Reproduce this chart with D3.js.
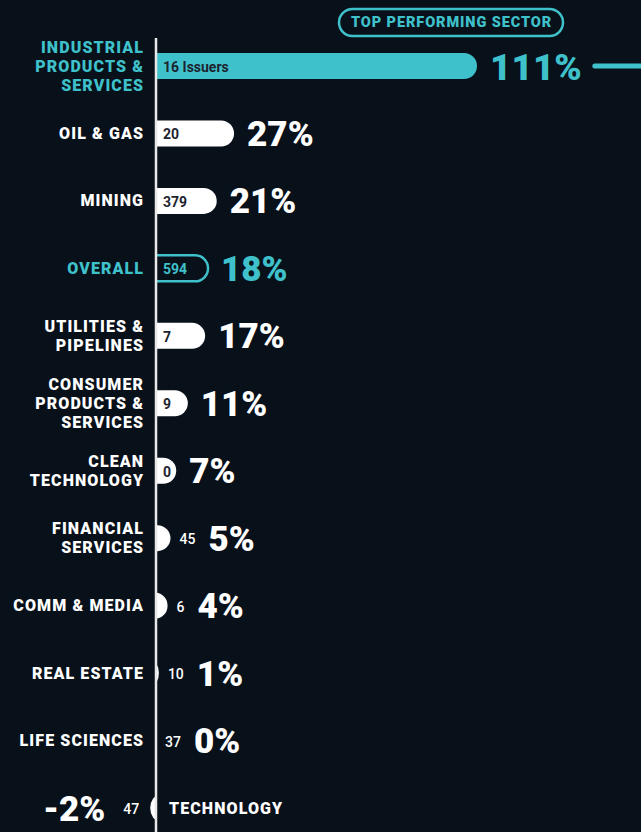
<!DOCTYPE html>
<html>
<head>
<meta charset="utf-8">
<script src="https://cdn.jsdelivr.net/npm/d3@7"></script>
<style>
  html, body { margin: 0; padding: 0; background: #08101a; }
  svg { display: block; }
  text { font-family: Roboto, "DejaVu Sans", sans-serif; }
</style>
</head>
<body>
<div id="chart"></div>
<script>
// ---- data ----
const categories = [
  "INDUSTRIAL|PRODUCTS &|SERVICES",
  "OIL & GAS",
  "MINING",
  "OVERALL",
  "UTILITIES &|PIPELINES",
  "CONSUMER|PRODUCTS &|SERVICES",
  "CLEAN|TECHNOLOGY",
  "FINANCIAL|SERVICES",
  "COMM & MEDIA",
  "REAL ESTATE",
  "LIFE SCIENCES",
  "TECHNOLOGY"
];
const returns = [111, 27, 21, 18, 17, 11, 7, 5, 4, 1, 0, -2];
const issuers = [16, 20, 379, 594, 7, 9, 0, 45, 6, 10, 37, 47];
const highlight = ["top", "", "", "overall", "", "", "", "", "", "", "", ""];
const badgeText = "TOP PERFORMING SECTOR";

// ---- layout ----
const W = 641, H = 832;
const teal = "#3fc1cb", white = "#ffffff", bg = "#08101a", dark = "#1c2430";
const svg = d3.select("#chart").append("svg").attr("width", W).attr("height", H);
svg.append("rect").attr("width", W).attr("height", H).attr("fill", bg);

const x = d3.scaleLinear().domain([0, 111]).range([156, 477]);
const y = d3.scalePoint().domain(d3.range(categories.length)).range([66, 808]);
const x0 = x(0);
const barH = 26, r = 13;

const rows = categories.map((c, i) => ({
  i, label: c.split("|"), v: returns[i], n: issuers[i], hl: highlight[i]
}));

const defs = svg.append("defs");
defs.append("clipPath").attr("id", "clipR").append("rect")
  .attr("x", x0).attr("y", 0).attr("width", W).attr("height", H);
defs.append("clipPath").attr("id", "clipL").append("rect")
  .attr("x", 0).attr("y", 0).attr("width", x0).attr("height", H);

// badge
const badge = svg.append("g");
badge.append("rect").attr("x", 339).attr("y", 9).attr("width", 224).attr("height", 27)
  .attr("rx", 13.5).attr("fill", "none").attr("stroke", teal).attr("stroke-width", 2.5);
badge.append("text").attr("x", 451.5).attr("y", 22.5).attr("text-anchor", "middle")
  .attr("dominant-baseline", "central").attr("fill", teal)
  .attr("font-size", 14.5).attr("font-weight", 900).attr("letter-spacing", 0.9)
  .text(badgeText);

// bars
const bars = svg.append("g");
rows.forEach(d => {
  const cy = y(d.i);
  const pos = d.v >= 0;
  const xe = x(d.v);
  if (d.v === 0) return;
  const rx0 = pos ? x0 - r : xe;
  const rw = pos ? (xe - x0 + r) : (x0 + r - xe);
  const isOverall = d.hl === "overall";
  bars.append("rect")
    .attr("clip-path", pos ? "url(#clipR)" : "url(#clipL)")
    .attr("x", rx0).attr("y", cy - barH / 2)
    .attr("width", rw).attr("height", barH)
    .attr("rx", r)
    .attr("fill", isOverall ? "none" : (d.hl === "top" ? teal : white))
    .attr("stroke", isOverall ? teal : "none")
    .attr("stroke-width", isOverall ? 2.5 : 0);
});

// axis line
svg.append("line").attr("x1", x0).attr("x2", x0).attr("y1", 38).attr("y2", H)
  .attr("stroke", "#e8e8e8").attr("stroke-width", 2.5);

// labels
const lab = svg.append("g");
const lineStep = 19;
const ls = 1.1;
rows.forEach(d => {
  const cy = y(d.i);
  const pos = d.v >= 0;
  const col = d.hl ? teal : white;
  const xe = x(d.v);
  const w = Math.abs(xe - x0);
  // category label
  const n = d.label.length;
  const lx = pos ? 143 + ls : x0 + 13;
  const t = lab.append("text")
    .attr("text-anchor", pos ? "end" : "start")
    .attr("x", lx).attr("letter-spacing", ls)
    .attr("fill", col).attr("font-size", 16).attr("font-weight", 900);
  d.label.forEach((s, k) => {
    t.append("tspan").attr("x", lx)
      .attr("y", cy + (k - (n - 1) / 2) * lineStep)
      .attr("dominant-baseline", "central").text(s);
  });

  // issuer count
  const inside = pos && w >= 18;
  const countStr = d.hl === "top" ? d.n + " Issuers" : String(d.n);
  let cx, anchor, ccol, cfs, cw;
  if (inside) {
    cx = x0 + 7; anchor = "start";
    ccol = d.hl === "overall" ? teal : dark; cfs = 14; cw = 700;
  } else if (pos) {
    cx = xe + 9; anchor = "start"; ccol = white; cfs = 14; cw = 500;
  } else {
    cx = xe - 11; anchor = "end"; ccol = white; cfs = 14; cw = 500;
  }
  const ct = lab.append("text").attr("x", cx).attr("y", cy + 1)
    .attr("text-anchor", anchor).attr("dominant-baseline", "central")
    .attr("fill", ccol).attr("font-size", cfs).attr("font-weight", cw)
    .text(countStr);
  const cbox = ct.node().getBBox();

  // percent label
  const pfs = d.hl === "top" ? 37 : 35;
  let px, panchor;
  if (pos) {
    const edge = inside ? xe : cbox.x + cbox.width;
    px = edge + 13; panchor = "start";
  } else {
    px = cbox.x - 18; panchor = "end";
  }
  const pt = lab.append("text").attr("x", px).attr("y", cy + 1)
    .attr("text-anchor", panchor).attr("dominant-baseline", "central")
    .attr("fill", col).attr("font-size", pfs).attr("font-weight", 900)
    .text(d.v + "%");

  if (d.hl === "top") {
    const pb = pt.node().getBBox();
    svg.append("line").attr("x1", pb.x + pb.width + 13).attr("x2", W + 10)
      .attr("y1", cy).attr("y2", cy)
      .attr("stroke", teal).attr("stroke-width", 5).attr("stroke-linecap", "round");
  }
});
</script>
</body>
</html>
